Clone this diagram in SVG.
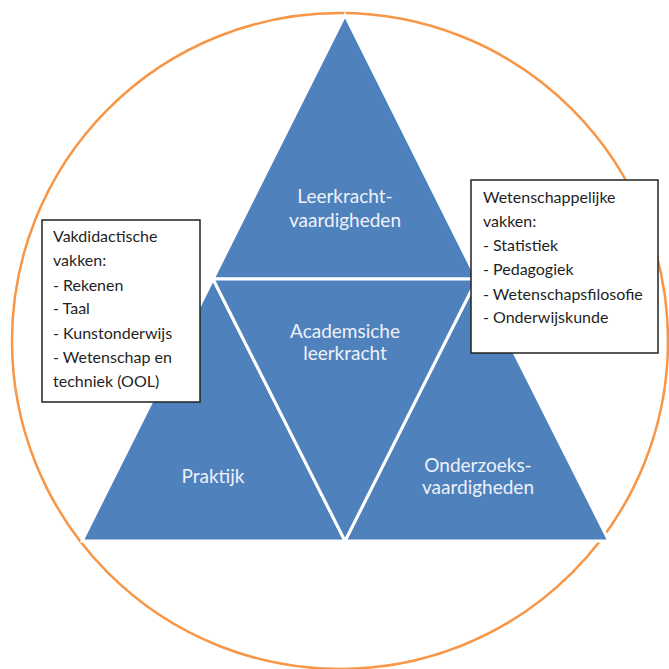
<svg xmlns="http://www.w3.org/2000/svg" width="669" height="669" viewBox="0 0 669 669">
<style>
.tri{fill:#4F81BD;stroke:#FFFFFF;stroke-width:3;stroke-linejoin:miter}
.lbl{font-family:Lato,"Open Sans","Liberation Sans",sans-serif;font-size:19px;fill:#EEF2F8;text-anchor:middle}
.box{fill:#FFFFFF;stroke:#222222;stroke-width:1.5}
.bt{font-family:Lato,"Open Sans","Liberation Sans",sans-serif;font-size:16px;fill:#1F1F1F}
</style>
<rect width="669" height="669" fill="#FFFFFF"/>
<circle id="circle" cx="340" cy="341" r="328" fill="none" stroke="#F79646" stroke-width="2.5"/>
<g id="top">
<polygon class="tri" points="345,15 213,279 477,279"/>
<text class="lbl" x="345" y="203">Leerkracht-</text>
<text class="lbl" x="345" y="227">vaardigheden</text>
</g>
<g id="left">
<polygon class="tri" points="213,279 82,541 345,541"/>
<text class="lbl" x="213" y="483">Praktijk</text>
</g>
<g id="right">
<polygon class="tri" points="477,279 345,541 609,541"/>
<text class="lbl" x="478" y="472">Onderzoeks-</text>
<text class="lbl" x="478" y="494">vaardigheden</text>
</g>
<g id="center">
<polygon class="tri" points="213,279 477,279 345,541"/>
<text class="lbl" x="345" y="338">Academsiche</text>
<text class="lbl" x="345" y="360">leerkracht</text>
</g>
<g id="box-left">
<rect class="box" x="42" y="220" width="158" height="182"/>
<text class="bt" x="53" y="242">Vakdidactische</text>
<text class="bt" x="53" y="266">vakken:</text>
<text class="bt" x="53" y="291">- Rekenen</text>
<text class="bt" x="53" y="314">- Taal</text>
<text class="bt" x="53" y="339">- Kunstonderwijs</text>
<text class="bt" x="53" y="363">- Wetenschap en</text>
<text class="bt" x="53" y="387">techniek (OOL)</text>
</g>
<g id="box-right">
<rect class="box" x="471" y="180" width="187" height="173"/>
<text class="bt" x="483" y="203">Wetenschappelijke</text>
<text class="bt" x="483" y="227">vakken:</text>
<text class="bt" x="483" y="251">- Statistiek</text>
<text class="bt" x="483" y="275">- Pedagogiek</text>
<text class="bt" x="483" y="300">- Wetenschapsfilosofie</text>
<text class="bt" x="483" y="323">- Onderwijskunde</text>
</g>
<g id="connectors"/>
</svg>
